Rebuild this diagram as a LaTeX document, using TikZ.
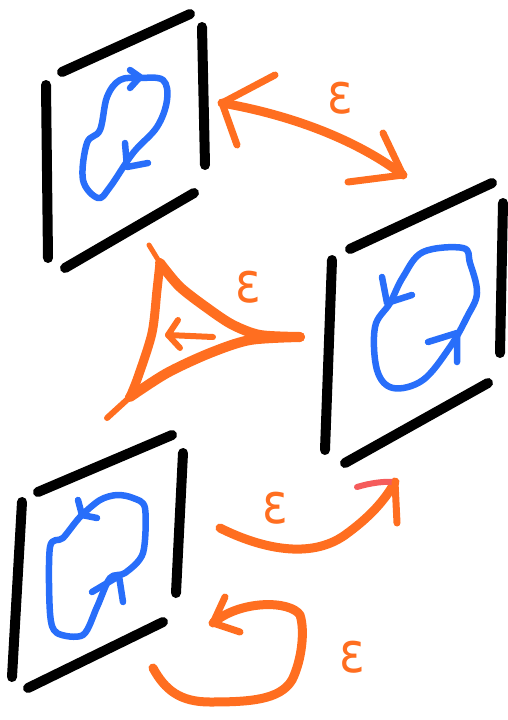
\documentclass[tikz,border=0pt]{standalone}
\usepackage{fontspec}
\setmainfont{DejaVu Sans}
\definecolor{org}{RGB}{255,110,32}
\definecolor{blu}{RGB}{40,110,250}
\definecolor{pnk}{RGB}{245,92,92}
\begin{document}
\begin{tikzpicture}[x=1pt,y=-1pt,
  frameedge/.style={line width=10pt,line cap=round,black},
  loopline/.style={blu,line width=6.5pt,line cap=round,line join=round},
  orline/.style={org,line width=9pt,line cap=round,line join=round},
  orhead/.style={org,line width=7pt,line cap=round,line join=round},
  eps/.style={org,font=\fontsize{56}{56}\selectfont,inner sep=0pt,xscale=0.85}]
\useasboundingbox (0,0) rectangle (507,720);
% ---------- top-left frame ----------
\draw[frameedge] (62,72) -- (190,14);
\draw[frameedge] (202,27) -- (205,165);
\draw[frameedge] (46,85) -- (48,258);
\draw[frameedge] (65,268) -- (194,193);
\draw[loopline] plot[smooth cycle,tension=0.6] coordinates {(163,80) (167,100) (157,127) (133,153) (110,187) (98,198) (83,180) (87,143) (100,130) (107,97) (120,80) (140,78)};
\draw[loopline] (130,70) -- (140,77) -- (130,88);
\draw[loopline] (125,143) -- (127,167) -- (148,163);
% ---------- right frame ----------
\draw[frameedge] (350,249) -- (492,183);
\draw[frameedge] (503,203) -- (500,353);
\draw[frameedge] (332,260) -- (325,450);
\draw[frameedge] (345,463) -- (488,383);
\draw[loopline] plot[smooth cycle,tension=0.6] coordinates {(463,248) (423,252) (403,277) (390,303) (375,327) (377,370) (393,388) (423,380) (450,347) (467,317) (477,293) (470,263)};
\draw[loopline] (382,277) -- (387,303) -- (412,295);
\draw[loopline] (428,342) -- (457,333) -- (457,362);
% ---------- bottom-left frame ----------
\draw[frameedge] (38,492) -- (172,435);
\draw[frameedge] (183,453) -- (176,593);
\draw[frameedge] (22,502) -- (12,677);
\draw[frameedge] (28,688) -- (163,622);
\draw[loopline] plot[smooth cycle,tension=0.5] coordinates {(133,498) (145,508) (143,553) (125,573) (110,578) (97,607) (83,635) (57,633) (50,613) (50,547) (63,538) (80,517) (100,500) (117,495)};
\draw[loopline] (78,500) -- (82,515) -- (97,518);
\draw[loopline] (92,592) -- (119,576) -- (123,602);
% ---------- top double arrow ----------
\coordinate (a1) at (222,103);
\coordinate (a2) at (403,175);
\draw[orline] (a1) .. controls (280,113) and (350,135) .. (a2);
\draw[orhead] (275,75) -- (a1) -- (237,145);
\draw[orhead] (383,133) -- (a2) -- (348,182);
\node[eps] (e1) at (340,98) {ε};
% ---------- triangle ----------
\coordinate (t1) at (160,263);
\coordinate (t2) at (300,337);
\coordinate (t3) at (130,397);
\draw[orline,line width=10pt] plot[smooth,tension=0.5] coordinates {(t1) (180,287) (210,310) (233,325) (260,335) (t2)};
\draw[orline,line width=10pt] plot[smooth,tension=0.5] coordinates {(t2) (250,340) (210,353) (167,373) (t3)};
\draw[orline,line width=9pt] plot[smooth,tension=0.5] coordinates {(t3) (138,377) (152,333) (157,290) (t1)};
\draw[orline,line width=5pt] (t1) -- (149,245);
\draw[orline,line width=6pt] (t3) -- (107,418);
\draw[orhead,line width=6pt] (213,337) -- (168,335);
\draw[orhead,line width=6pt] (178,320) -- (168,335) -- (180,348);
\node[eps] (e2) at (248,287) {ε};
% ---------- bottom arrow ----------
\coordinate (b1) at (220,528);
\coordinate (b2) at (395,482);
\draw[orline] (b1) .. controls (260,548) and (310,560) .. (345,535) .. controls (370,517) and (385,500) .. (b2);
\draw[pnk,line width=6pt,line cap=round] (357,487) .. controls (370,483) and (385,481) .. (b2);
\draw[orhead] (b2) -- (397,523);
\node[eps] (e3) at (275,508) {ε};
% ---------- loop arrow ----------
\coordinate (c1) at (153,668);
\coordinate (c2) at (213,623);
\draw[orline] (c1) .. controls (165,690) and (180,702) .. (210,702)
  .. controls (250,702) and (280,700) .. (292,680)
  .. controls (302,660) and (305,630) .. (300,615)
  .. controls (290,600) and (240,600) .. (c2);
\draw[orhead] (225,597) -- (c2) -- (240,632);
\node[eps] (e4) at (352,657) {ε};
\end{tikzpicture}
\end{document}
